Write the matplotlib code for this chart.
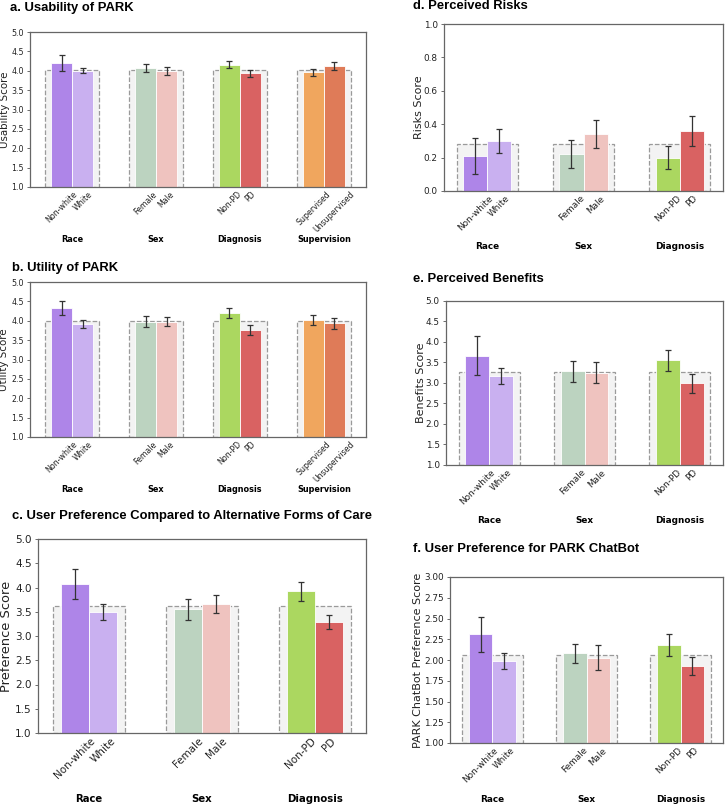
import matplotlib
matplotlib.use('Agg')
import matplotlib.pyplot as plt
import numpy as np

# ---- data ----
groups4 = ['Race', 'Sex', 'Diagnosis', 'Supervision']
groups3 = ['Race', 'Sex', 'Diagnosis']
sub_labels4 = ['Non-white', 'White', 'Female', 'Male', 'Non-PD', 'PD', 'Supervised', 'Unsupervised']
sub_labels3 = sub_labels4[:6]

usability_means = [4.20, 4.00, 4.08, 3.99, 4.16, 3.93, 3.96, 4.12]
usability_errs = [0.21, 0.07, 0.10, 0.11, 0.09, 0.10, 0.085, 0.11]
usability_overall = 4.03

utility_means = [4.33, 3.92, 3.98, 3.98, 4.20, 3.76, 4.02, 3.93]
utility_errs = [0.185, 0.11, 0.14, 0.12, 0.125, 0.13, 0.125, 0.15]
utility_overall = 3.985

preference_means = [4.08, 3.50, 3.55, 3.66, 3.92, 3.29]
preference_errs = [0.31, 0.16, 0.21, 0.19, 0.20, 0.15]
preference_overall = 3.61

risks_means = [0.21, 0.30, 0.22, 0.34, 0.20, 0.36]
risks_errs = [0.11, 0.07, 0.085, 0.085, 0.067, 0.09]
risks_overall = 0.28

benefits_means = [3.67, 3.17, 3.285, 3.25, 3.55, 2.99]
benefits_errs = [0.465, 0.20, 0.26, 0.26, 0.25, 0.23]
benefits_overall = 3.28

chatbot_means = [2.31, 1.99, 2.08, 2.03, 2.18, 1.93]
chatbot_errs = [0.21, 0.095, 0.115, 0.145, 0.135, 0.11]
chatbot_overall = 2.06

bar_colors = ['#ae85e8', '#c9b0f0', '#bcd3c0', '#efc3bf',
              '#abd760', '#d96262', '#f0a65e', '#df7b58']

BAR_W = 0.25
RECT_W = 0.64

fig = plt.figure(figsize=(7.26, 8.06), dpi=100)
W, H = 726.0, 806.0


def axes_px(left, right, top, bottom):
    return fig.add_axes([left / W, 1 - bottom / H, (right - left) / W, (bottom - top) / H])


def draw_panel(ax, means, errs, overall, groups, sub_labels, ylim, yticks, ylabel,
               tick_fs, label_fs, group_fs, group_off, label_off, yfmt='%.1f'):
    centers = np.arange(len(groups))
    base = ylim[0]
    # dashed overall-mean box behind each group
    ax.bar(centers, overall - base, bottom=base, width=RECT_W, color='#f3f3f3',
           edgecolor='#9a9a9a', linestyle='--', linewidth=0.9, zorder=1)
    xs = np.ravel(np.column_stack([centers - BAR_W / 2, centers + BAR_W / 2]))
    ax.bar(xs, np.array(means) - base, bottom=base, width=BAR_W,
           color=bar_colors[:len(xs)], edgecolor='white', linewidth=0.6, zorder=2)
    ax.errorbar(xs, means, yerr=errs, fmt='none', ecolor='#333333',
                elinewidth=0.9, capsize=2, capthick=0.9, zorder=3)
    ax.set_ylim(*ylim)
    ax.set_yticks(yticks)
    ax.set_yticklabels([yfmt % t for t in yticks], fontsize=tick_fs, color='#222222')
    ax.set_xticks(xs)
    ax.set_xticklabels(sub_labels, rotation=45, ha='center', fontsize=tick_fs, color='#222222')
    ax.tick_params(axis='x', length=0, pad=2)
    ax.tick_params(axis='y', length=2.5, width=0.6, pad=2, color='#555555')
    ax.set_ylabel(ylabel, fontsize=label_fs, color='#222222')
    # place the y label by pixel offset from the left spine
    ax_w = ax.get_position().width * W
    ax.yaxis.set_label_coords(-label_off / ax_w, 0.5)
    for s in ax.spines.values():
        s.set_color('#666666')
        s.set_linewidth(0.9)
    for c, g in zip(centers, groups):
        ax.annotate(g, xy=(c, 0), xycoords=('data', 'axes fraction'),
                    xytext=(0, -group_off), textcoords='offset points',
                    ha='center', va='center', fontsize=group_fs, fontweight='bold')


ax_a = axes_px(30, 366, 32, 187)
ax_b = axes_px(30, 366, 282, 437)
ax_c = axes_px(38, 366, 539, 733)
ax_d = axes_px(444, 723, 24, 191)
ax_e = axes_px(446, 723, 301, 465)
ax_f = axes_px(450, 723, 577, 743)

y15 = np.arange(1.0, 5.01, 0.5)
draw_panel(ax_a, usability_means, usability_errs, usability_overall, groups4, sub_labels4,
           (1.0, 5.0), y15, 'Usability Score', 5.7, 7.4, 5.9, 38, 20)
draw_panel(ax_b, utility_means, utility_errs, utility_overall, groups4, sub_labels4,
           (1.0, 5.0), y15, 'Utility Score', 5.7, 7.4, 5.9, 38, 20.5)
draw_panel(ax_c, preference_means, preference_errs, preference_overall, groups3, sub_labels3,
           (1.0, 5.0), y15, 'Preference Score', 7.5, 9.4, 7.3, 47.5, 25)
draw_panel(ax_d, risks_means, risks_errs, risks_overall, groups3, sub_labels3,
           (0.0, 1.0), np.arange(0, 1.01, 0.2), 'Risks Score', 6.4, 8.0, 6.4, 40, 20)
draw_panel(ax_e, benefits_means, benefits_errs, benefits_overall, groups3, sub_labels3,
           (1.0, 5.0), y15, 'Benefits Score', 6.4, 8.0, 6.4, 40, 20)
draw_panel(ax_f, chatbot_means, chatbot_errs, chatbot_overall, groups3, sub_labels3,
           (1.0, 3.0), np.arange(1.0, 3.01, 0.25), 'PARK ChatBot Preference Score',
           6.4, 8.0, 6.4, 41, 27, yfmt='%.2f')

titles = [
    ('a. Usability of PARK', 10, 8),
    ('b. Utility of PARK', 12, 268),
    ('c. User Preference Compared to Alternative Forms of Care', 12, 516),
    ('d. Perceived Risks', 413, 6),
    ('e. Perceived Benefits', 413, 279),
    ('f. User Preference for PARK ChatBot', 413, 549),
]
for t, x, y in titles:
    fig.text(x / W, 1 - y / H, t, ha='left', va='center', fontsize=9.4,
             fontweight='bold', family=['Liberation Sans', 'DejaVu Sans'])

fig.savefig('out.png', dpi=100)
